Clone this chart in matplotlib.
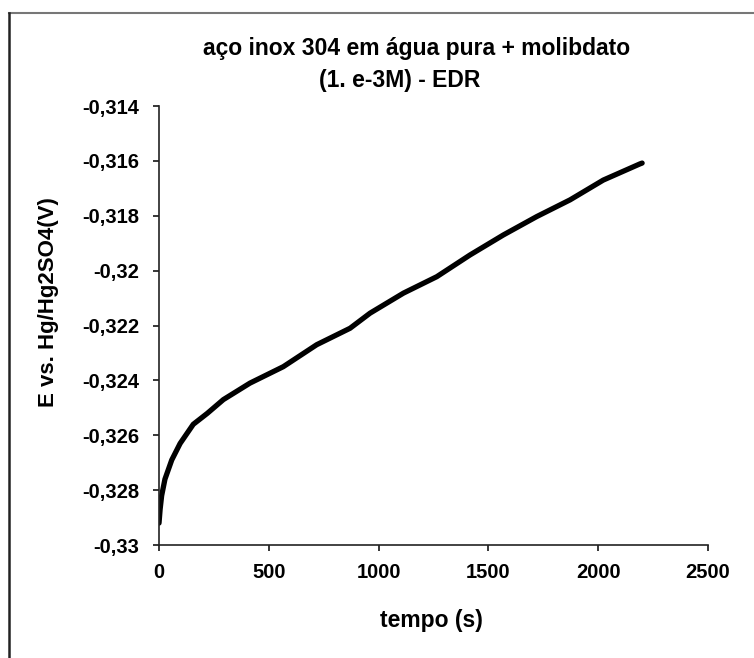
import matplotlib
matplotlib.use("Agg")
import matplotlib.pyplot as plt
from matplotlib.lines import Line2D

plt.rcParams["font.family"] = ["Liberation Sans", "DejaVu Sans"]

# values (time in s, potential in V)
tempo = [0, 5, 12, 27, 58, 96, 156, 220, 293, 414, 566, 718, 870, 961,
         1113, 1265, 1416, 1568, 1720, 1872, 2023, 2190, 2200]
potencial = [-0.3292, -0.3287, -0.3282, -0.3276, -0.3269, -0.3263, -0.3256,
             -0.3252, -0.3247, -0.3241, -0.3235, -0.3227, -0.3221, -0.32155,
             -0.32082, -0.32022, -0.31943, -0.31870, -0.31803, -0.31742,
             -0.31670, -0.31611, -0.31608]

xticks = [0, 500, 1000, 1500, 2000, 2500]
yticks = [-0.33, -0.328, -0.326, -0.324, -0.322, -0.32, -0.318, -0.316, -0.314]
ytick_labels = ["-0,33", "-0,328", "-0,326", "-0,324", "-0,322", "-0,32",
                "-0,318", "-0,316", "-0,314"]

fig = plt.figure(figsize=(7.54, 6.58), dpi=100)
ax = fig.add_axes([0.2109, 0.1717, 0.939 - 0.2109, 0.8389 - 0.1717])

ax.plot(tempo, potencial, color="black", lw=3.8, solid_capstyle="round")

ax.set_xlim(0, 2500)
ax.set_ylim(-0.33, -0.314)
ax.set_xticks(xticks)
ax.set_xticklabels([str(v) for v in xticks])
ax.set_yticks(yticks)
ax.set_yticklabels(ytick_labels)

for side in ("top", "right"):
    ax.spines[side].set_visible(False)
for side in ("left", "bottom"):
    ax.spines[side].set_linewidth(1.2)
    ax.spines[side].set_color("#222222")

ax.tick_params(axis="both", direction="out", length=4, width=1.1,
               labelsize=14.5, colors="black")
for lab in ax.get_xticklabels() + ax.get_yticklabels():
    lab.set_fontweight("bold")
ax.tick_params(axis="x", pad=9)
ax.tick_params(axis="y", pad=10)

ax.set_xlabel("tempo (s)", fontsize=16.5, fontweight="bold")
ax.set_ylabel("E vs. Hg/Hg2SO4(V)", fontsize=16, fontweight="bold")
ax.xaxis.set_label_coords(0.497, -0.173)
ax.yaxis.set_label_coords(-0.202, 0.553)
ax.xaxis.label.set_va("center")
ax.yaxis.label.set_va("center")

fig.text(417 / 754, 1 - 49 / 658, "aço inox 304 em água pura + molibdato",
         ha="center", va="center", fontsize=16.5, fontweight="bold")
fig.text(400 / 754, 1 - 80 / 658, "(1. e-3M) - EDR",
         ha="center", va="center", fontsize=16.5, fontweight="bold")

# chart-area border (top and left edges visible in the scan)
fig.add_artist(Line2D([9 / 754, 1.0], [1 - 13 / 658, 1 - 13 / 658],
                      transform=fig.transFigure, color="#777777", lw=1.5))
fig.add_artist(Line2D([9 / 754, 9 / 754], [0.0, 1 - 13 / 658],
                      transform=fig.transFigure, color="#222222", lw=1.8))

fig.savefig("out.png", dpi=100)
